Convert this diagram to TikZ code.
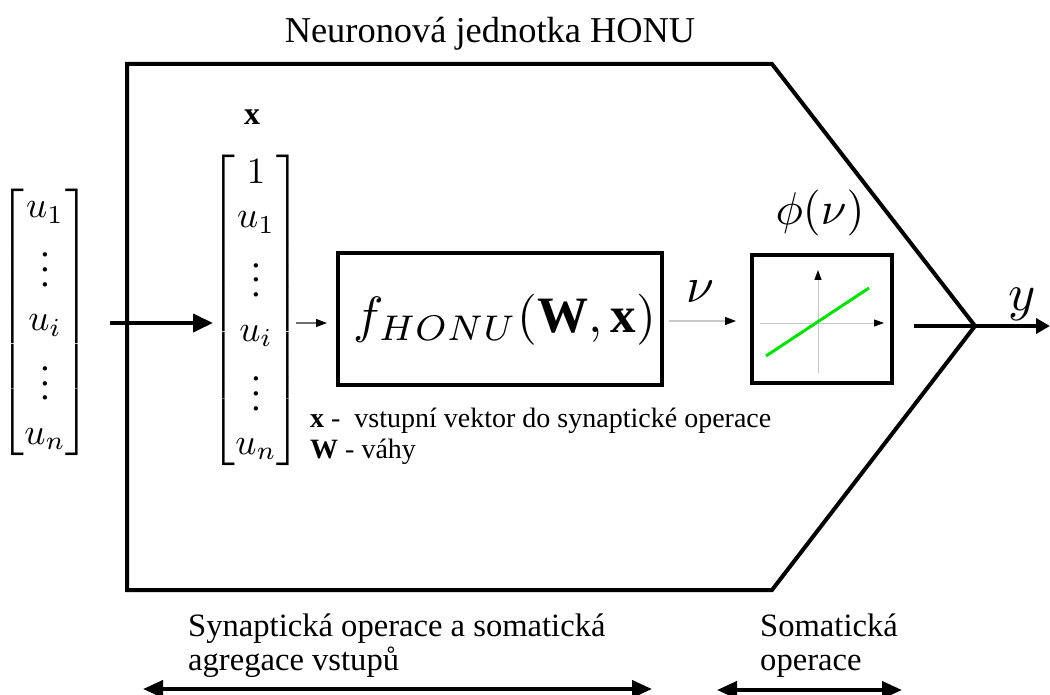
\documentclass[tikz,border=0pt]{standalone}
\usepackage{amsmath,amssymb}
\usepackage{graphicx}
\usepackage{fontspec}
\setmainfont{Liberation Serif}
\usetikzlibrary{arrows.meta,calc}
\definecolor{caxis}{HTML}{C8C8C8}
\definecolor{cthin}{HTML}{707070}
\definecolor{cfit}{HTML}{00E000}
\newcommand{\scm}[2]{\scalebox{#1}{$#2$}}
\tikzset{
  blk/.style={draw,line width=4pt,inner sep=0pt},
  thk/.style={line width=4pt},
  bigarr/.style={thk,-{Triangle[length=20pt,width=18pt]}},
  dblarr/.style={thk,{Triangle[length=20pt,width=17pt]}-{Triangle[length=20pt,width=17pt]}},
  thinarr/.style={line width=1.2pt,-{Triangle[length=11pt,width=8pt,color=black]}},
  axis/.style={draw=caxis,line width=1pt,-{Triangle[length=10pt,width=7pt,color=black]}},
  mth/.style={inner sep=0pt},
  ttlfont/.style={font=\fontsize{36.4}{40}\selectfont},
  lbl/.style={font=\fontsize{32.6}{34}\selectfont,align=left,inner sep=0pt},
  note/.style={font=\fontsize{28}{31}\selectfont,align=left,inner sep=0pt}
}
\begin{document}
\begin{tikzpicture}[x=1pt,y=-1pt]
  \useasboundingbox (0,0) rectangle (1050,695);
  \node[ttlfont,anchor=base,inner sep=0pt] (title) at (490,43) {Neuronová jednotka HONU};
  % body of the unit
  \coordinate (apex) at (975,326);
  \draw[thk,line join=miter] (127,64) -- (772,64) -- (apex) -- (772,590) -- (127,590) -- cycle;
  % input vectors
  \node[mth] (vecu) at (45,322) {\scm{3.7}{\begin{bmatrix}u_1\\ \vdots\\ u_i\\ \vdots\\ u_n\end{bmatrix}}};
  \node[mth] (vecx) at (256,310) {\scm{3.7}{\begin{bmatrix}1\\ u_1\\ \vdots\\ u_i\\ \vdots\\ u_n\end{bmatrix}}};
  \node[mth] (xlab) at (252,117) {\scm{3.2}{\mathbf{x}}};
  \coordinate (in0) at (110,323); \coordinate (in1) at (213,323);
  \coordinate (x0) at (296,323); \coordinate (x1) at (327,323);
  % aggregation and activation
  \node[blk,minimum width=324pt,minimum height=132pt] (agg) at (500,319) {};
  \node[mth] (fhonu) at (505,320) {\scm{5.1}{f_{HONU}(\mathbf{W},\mathbf{x})}};
  \node[mth] (nulab) at (700,292) {\scm{5}{\nu}};
  \node[blk,minimum width=140pt,minimum height=128pt] (act) at (822,319) {};
  \node[mth] (philab) at (820,213) {\scm{4.6}{\phi(\nu)}};
  \draw[axis] (760,323) -- (884,323);
  \draw[axis] (818,373) -- (818,270);
  \draw[cfit,line width=3pt] (766,356) -- (869,288);
  \node[mth,anchor=base] (ylab) at (1022,310) {\scm{5.2}{y}};
  \coordinate (yend) at (1050,326);
  \draw[bigarr] (in0) -- (in1);
  \draw[thinarr,draw=cthin] (x0) -- (x1);
  \draw[thinarr,draw=caxis,shorten <=5pt,shorten >=14pt] ([yshift=-2pt]agg.east) -- ([yshift=-2pt]act.west);
  \draw[thk,shorten <=20pt] (act.east |- apex) -- (apex);
  \draw[thk,-{Triangle[length=14pt,width=15pt]}] (apex) -- (yend);
  \node[note,anchor=base west] (desc) at (310,458) {\textbf{x} -~ vstupní vektor do synaptické operace\\\textbf{W} - váhy};
  % ranges
  \node[lbl,anchor=base west] (syn) at (188,670) {Synaptická operace a somatická\\agregace vstupů};
  \node[lbl,anchor=base west] (som) at (760,670) {Somatická\\operace};
  \coordinate (s1) at (143,689); \coordinate (s2) at (652,689);
  \coordinate (o1) at (717,690); \coordinate (o2) at (902,690);
  \draw[dblarr] (s1) -- (s2);
  \draw[dblarr] (o1) -- (o2);
\end{tikzpicture}
\end{document}
